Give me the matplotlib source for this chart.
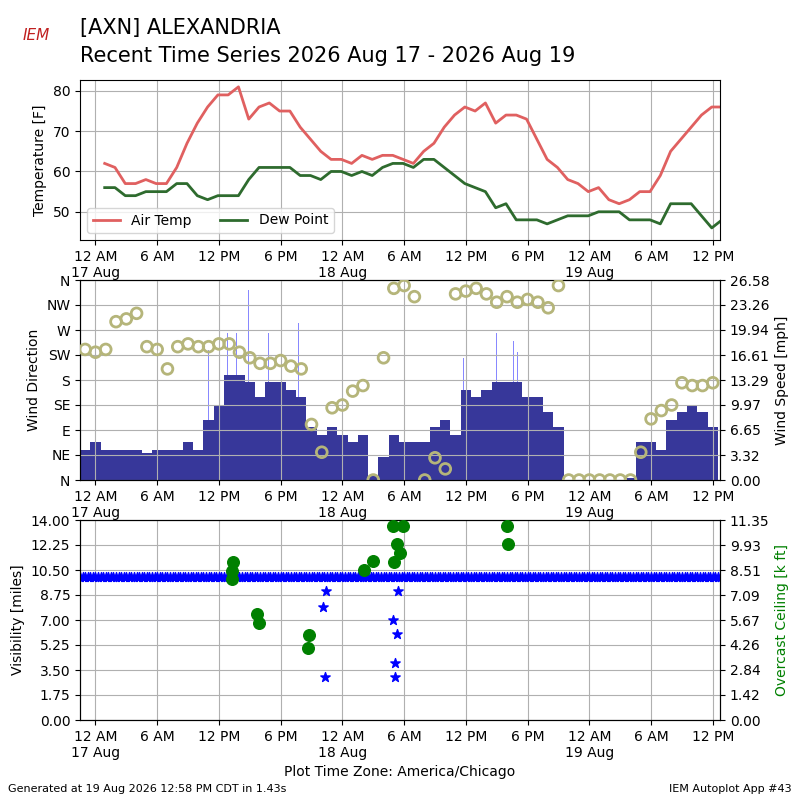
import numpy as np
import matplotlib
matplotlib.use("Agg")
import matplotlib.pyplot as plt

# hours since 17 Aug 00:00 local
obs_hours = [0.9 + i for i in range(61)]
air_temp = [62, 61, 57, 57, 58, 57, 57, 61, 67, 72, 76, 79, 79, 81, 73, 76, 77, 75, 75, 71,
            68, 65, 63, 63, 62, 64, 63, 64, 64, 63, 62, 65, 67, 71, 74, 76, 75, 77, 72, 74,
            74, 73, 68, 63, 61, 58, 57, 55, 56, 53, 52, 53, 55, 55, 59, 65, 68, 71, 74, 76, 76]
dew_point = [56, 56, 54, 54, 55, 55, 55, 57, 57, 54, 53, 54, 54, 54, 58, 61, 61, 61, 61, 59,
             59, 58, 60, 60, 59, 60, 59, 61, 62, 62, 61, 63, 63, 61, 59, 57, 56, 55, 51, 52,
             48, 48, 48, 47, 48, 49, 49, 49, 50, 50, 50, 48, 48, 48, 47, 52, 52, 52, 49, 46, 48]

wind_hours = [-1 + i for i in range(62)]
wind_speed = [4, 5, 4, 4, 4, 4, 3.6, 4, 4, 4, 5, 4,
              8, 10, 14, 14, 13, 11, 13, 13, 12, 11,
              7, 6, 7, 6, 5, 6, 0.5, 3, 6, 5,
              5, 5, 7, 8, 6, 12, 11, 12, 13, 13,
              13, 11, 11, 9, 7, 0, 0, 0, 0, 0,
              0, 0.3, 5, 5, 4, 8, 9, 10, 9, 7]
wind_dir = [235, 230, 235, 285, 290, 300, 240, 235, 200, 240, 245, 240,
            240, 245, 245, 230, 220, 210, 210, 215, 205, 200,
            100, 50, 130, 135, 160, 170, 0, 220, 345, 350,
            330, 0, 40, 20, 335, 340, 345, 335, 320, 330,
            320, 325, 320, 310, 350, 0, 0, 0, 0, 0,
            0, 0, 50, 110, 125, 135, 175, 170, 170, 175]
gust_hours = [11.0, 12.8, 13.7, 14.9, 16.8, 19.7, 35.8, 39.0, 40.6, 41.0]
gust_speed = [17.3, 19.5, 19.5, 25.3, 19.5, 20.9, 16.2, 19.5, 18.5, 17.0]
speed_ticks = [0.00, 3.32, 6.65, 9.97, 13.29, 16.61, 19.94, 23.26, 26.58]

vis_hours = np.arange(-1.5, 60.9, 0.25)
vis_miles = np.full(len(vis_hours), 10.0)
lowvis_hours = [22.4, 22.1, 22.3, 28.9, 29.3, 29.1, 29.1, 29.4]
lowvis_miles = [9.0, 7.9, 3.0, 7.0, 6.0, 4.0, 3.0, 9.0]
ceil_hours = [13.4, 13.3, 13.3, 15.7, 15.9, 20.8, 20.7, 26.1, 27.0, 28.9, 29.9, 29.3, 29.6, 29.0, 40.0, 40.1]
ceil_kft = [8.97, 8.43, 8.0, 6.02, 5.5, 4.82, 4.09, 8.51, 9.0, 11.0, 11.0, 9.97, 9.49, 8.97, 11.0, 9.97]
ceil_ticks = [0.00, 1.42, 2.84, 4.26, 5.67, 7.09, 8.51, 9.93, 11.35]

tick_pos = list(range(0, 61, 6))
tick_lbl = ["12 AM\n17 Aug", "6 AM", "12 PM", "6 PM", "12 AM\n18 Aug", "6 AM", "12 PM", "6 PM",
            "12 AM\n19 Aug", "6 AM", "12 PM"]
XLIM = (-1.5, 60.7)

fig = plt.figure(figsize=(8, 8), dpi=100)

def setup_x(ax):
    ax.set_xlim(*XLIM)
    ax.set_xticks(tick_pos)
    ax.set_xticklabels(tick_lbl)
    ax.grid(True, color="#b0b0b0")
    ax.set_axisbelow(True)

# temperature
ax1 = fig.add_axes([0.1, 0.7, 0.8, 0.2])
ax1.plot(obs_hours, air_temp, color="#e06060", lw=2, label="Air Temp")
ax1.plot(obs_hours, dew_point, color="#2e6b2e", lw=2, label="Dew Point")
ax1.set_ylim(43, 82.7)
ax1.set_yticks([50, 60, 70, 80])
ax1.set_ylabel("Temperature [F]")
ax1.legend(loc="lower left", ncol=2)
setup_x(ax1)

# wind
ax2 = fig.add_axes([0.1, 0.4, 0.8, 0.25])
ax2r = ax2.twinx()
ax2r.bar(gust_hours, gust_speed, width=0.08, color="#8888ff", zorder=1)
ax2r.bar(wind_hours, wind_speed, width=1.0, color="#37379a", zorder=2)
ax2r.set_ylim(0, 26.58)
ax2r.set_yticks(speed_ticks)
ax2r.set_yticklabels(["%.2f" % v for v in speed_ticks])
ax2r.set_ylabel("Wind Speed [mph]")
ax2.set_zorder(ax2r.get_zorder() + 1)
ax2.patch.set_visible(False)
ax2.scatter(wind_hours, wind_dir, s=60, facecolors="none", edgecolors="#b5b57a", lw=2, zorder=3)
ax2.set_ylim(0, 360)
ax2.set_yticks(range(0, 361, 45))
ax2.set_yticklabels(["N", "NE", "E", "SE", "S", "SW", "W", "NW", "N"])
ax2.set_ylabel("Wind Direction")
setup_x(ax2)
ax2r.set_xlim(*XLIM)

# visibility / ceiling
ax3 = fig.add_axes([0.1, 0.1, 0.8, 0.25])
ax3.scatter(vis_hours, vis_miles, marker="*", s=50, color="blue", zorder=3)
ax3.scatter(lowvis_hours, lowvis_miles, marker="*", s=50, color="blue", zorder=3)
ax3.set_ylim(0, 14)
ax3.set_yticks(np.arange(0, 14.01, 1.75))
ax3.set_yticklabels(["%.2f" % v for v in np.arange(0, 14.01, 1.75)])
ax3.set_ylabel("Visibility [miles]")
setup_x(ax3)
ax3.set_xlabel("Plot Time Zone: America/Chicago")
ax3r = ax3.twinx()
ax3r.scatter(ceil_hours, ceil_kft, s=70, color="green", zorder=4)
ax3r.set_ylim(0, 11.35)
ax3r.set_yticks(ceil_ticks)
ax3r.set_yticklabels(["%.2f" % v for v in ceil_ticks])
ax3r.set_ylabel("Overcast Ceiling [k ft]", color="green")
ax3r.set_xlim(*XLIM)

fig.text(0.1, 0.965, "[AXN] ALEXANDRIA", fontsize=15, va="center")
fig.text(0.1, 0.93, "Recent Time Series 2026 Aug 17 - 2026 Aug 19", fontsize=15, va="center")
fig.text(0.045, 0.955, "IEM", color="#c02020", fontsize=11, style="italic", ha="center", va="center")
fig.text(0.01, 0.01, "Generated at 19 Aug 2026 12:58 PM CDT in 1.43s", fontsize=8)
fig.text(0.99, 0.01, "IEM Autoplot App #43", fontsize=8, ha="right")

fig.savefig("out.png", dpi=100)
